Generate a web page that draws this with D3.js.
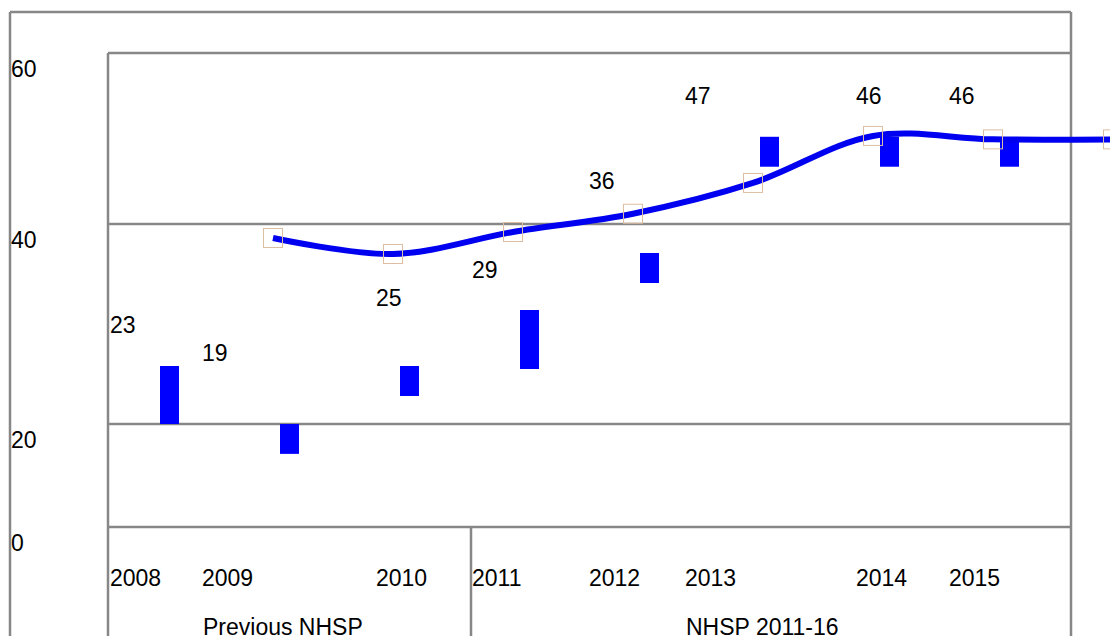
<!DOCTYPE html>
<html>
<head>
<meta charset="utf-8">
<script src="https://cdn.jsdelivr.net/npm/d3@7"></script>
<style>
  body { margin: 0; background: #fff; }
  text { font-family: Arial, "Liberation Sans", sans-serif; font-size: 23px; fill: #000; }
</style>
</head>
<body>
<script>
// chart data
var years = [2008, 2009, 2010, 2011, 2012, 2013, 2014, 2015];
var labelValues = [23, 19, 25, 29, 36, 47, 46, 46];
var barLow = [20, 14.2, 22.8, 25.5, 34.1, 46.7, 46.7, 46.7];
var barHigh = [25.8, 20, 25.8, 31.4, 37.1, 50.2, 50.2, 50.1];
var lineValues = [38.6, 37.0, 39.2, 41.2, 44.8, 50.3, 49.9, 49.9];
var yTicks = [0, 20, 40, 60];
var groupNames = ["Previous NHSP", "NHSP 2011-16"];
var groupStart = [2009, 2013];

// size of page
var w = 1110;
var h = 636;
var left = 108;
var right = 1071;
var gray = "#878787";

var svg = d3.select("body")
            .append("svg")
            .attr("width", w)
            .attr("height", h);

// y scale (the rendering has uneven gaps between gridlines)
var yScale = d3.scaleLinear()
               .domain([0, 20, 40, 60])
               .range([527, 424, 224, 53]);

// x scales: bars, line markers and text labels sit on different offsets
var xBar = d3.scalePoint()
             .domain(d3.range(years.length))
             .range([169.5, 1009.5]);
var xLine = d3.scalePoint()
              .domain(d3.range(years.length))
              .range([273, 1113]);
var xText = d3.scaleLinear()
              .domain(years)
              .range([110, 202, 376, 472, 589, 685, 856, 949]);

// label baselines follow value, capped at the top
var labelY = d3.scaleLinear()
               .domain([19, 23, 25, 29, 36, 46])
               .range([361, 333, 306, 278, 189, 104])
               .clamp(true);

// frame lines
function line(x1, y1, x2, y2) {
  svg.append("line")
     .attr("x1", x1).attr("y1", y1)
     .attr("x2", x2).attr("y2", y2)
     .attr("stroke", gray)
     .attr("stroke-width", 2.5);
}
line(10, 12, right, 12);
line(10, 12, 10, h);
line(right, 12, right, h);
line(left, yScale(60), right, yScale(60));
line(left, yScale(60), left, h);
line(xText(2011) - 1, yScale(0), xText(2011) - 1, h);

// gridlines
svg.selectAll(".grid")
   .data(yTicks.slice(0, 3))
   .enter()
   .append("line")
   .attr("class", "grid")
   .attr("x1", left)
   .attr("x2", right)
   .attr("y1", d => yScale(d))
   .attr("y2", d => yScale(d))
   .attr("stroke", gray)
   .attr("stroke-width", 2.5);

// y tick labels
svg.selectAll(".ylab")
   .data(yTicks)
   .enter()
   .append("text")
   .attr("class", "ylab")
   .attr("x", 11)
   .attr("y", d => yScale(d) + 24)
   .text(d => d);

// floating bars
svg.selectAll(".bar")
   .data(years)
   .enter()
   .append("rect")
   .attr("class", "bar")
   .attr("x", (d, i) => xBar(i) - 9.5)
   .attr("width", 19)
   .attr("y", (d, i) => yScale(barHigh[i]))
   .attr("height", (d, i) => yScale(barLow[i]) - yScale(barHigh[i]))
   .attr("fill", "#0000ff");

// smoothed line
var path = d3.line()
             .x((d, i) => xLine(i))
             .y(d => yScale(d))
             .curve(d3.curveCatmullRom.alpha(0.5));

svg.append("path")
   .datum(lineValues)
   .attr("d", path)
   .attr("fill", "none")
   .attr("stroke", "#0000f0")
   .attr("stroke-width", 6);

// square markers
svg.selectAll(".marker")
   .data(lineValues)
   .enter()
   .append("rect")
   .attr("class", "marker")
   .attr("x", (d, i) => xLine(i) - 9.5)
   .attr("y", d => yScale(d) - 9.5)
   .attr("width", 19)
   .attr("height", 19)
   .attr("fill", "none")
   .attr("stroke", "#dcbfa3")
   .attr("stroke-width", 1);

// value labels
svg.selectAll(".vlab")
   .data(labelValues)
   .enter()
   .append("text")
   .attr("class", "vlab")
   .attr("x", (d, i) => xText(years[i]))
   .attr("y", d => labelY(d))
   .text(d => d);

// year labels
svg.selectAll(".xlab")
   .data(years)
   .enter()
   .append("text")
   .attr("class", "xlab")
   .attr("x", d => xText(d))
   .attr("y", 586)
   .text(d => d);

// group labels
svg.selectAll(".glab")
   .data(groupNames)
   .enter()
   .append("text")
   .attr("class", "glab")
   .attr("x", (d, i) => xText(groupStart[i]) + 1)
   .attr("y", 635)
   .text(d => d);
</script>
</body>
</html>
